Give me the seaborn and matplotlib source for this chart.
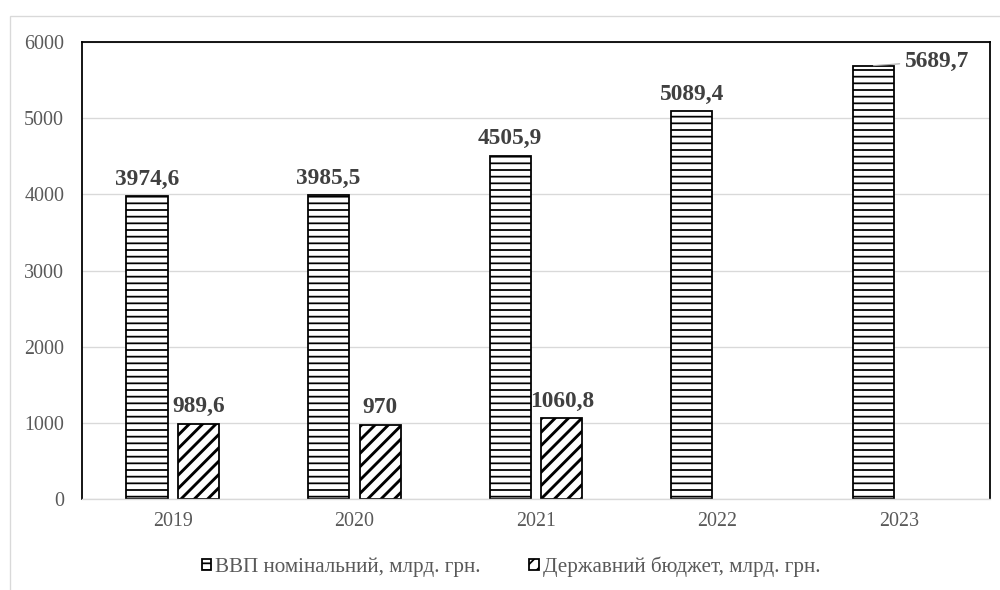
import numpy as np
import pandas as pd
import seaborn as sns
import matplotlib.pyplot as plt
from matplotlib.patches import Rectangle

years = ["2019", "2020", "2021", "2022", "2023"]
gdp = [3974.6, 3985.5, 4505.9, 5089.4, 5689.7]
budget = [989.6, 970.0, 1060.8, np.nan, np.nan]
gdp_labels = ["3974,6", "3985,5", "4505,9", "5089,4", "5689,7"]
budget_labels = ["989,6", "970", "1060,8"]
series = ["ВВП номінальний, млрд. грн.", "Державний бюджет, млрд. грн."]
yticks = [0, 1000, 2000, 3000, 4000, 5000, 6000]

df = pd.DataFrame({
    "year": years * 2,
    "value": gdp + budget,
    "series": [series[0]] * len(years) + [series[1]] * len(years),
})

sns.set_style("white")
plt.rcParams["font.family"] = ["Liberation Serif", "DejaVu Serif"]
plt.rcParams["hatch.linewidth"] = 1.6
plt.rcParams["hatch.color"] = "black"

grey_txt = "#595959"
lbl_txt = "#404040"

# 80 dpi so that matplotlib's hatch spacing matches the picture
fig = plt.figure(figsize=(12.5, 7.375), dpi=80)
fig.patches.append(Rectangle((0.01, -0.01), 1.0, 0.983, transform=fig.transFigure,
                             fill=False, edgecolor="#d9d9d9", lw=1.2))
ax = fig.add_axes([0.082, 0.1542, 0.908, 0.7746])

sns.barplot(data=df, x="year", y="value", hue="series", hue_order=series,
            palette=["white", "white"], saturation=1, edgecolor="black",
            linewidth=1.6, width=0.567, gap=0.2, errorbar=None,
            legend=False, ax=ax)

hatches = ["--", "//"]
hlw = [1.6, 2.6]
for cont, h, lw in zip(ax.containers, hatches, hlw):
    for p in cont:
        p.set_hatch(h)
        if hasattr(p, "set_hatch_linewidth"):
            p.set_hatch_linewidth(lw)

# data labels
lab_kw = dict(fontsize=21, fontweight="bold", color=lbl_txt)
ax.bar_label(ax.containers[0], labels=gdp_labels[:-1] + [""], padding=6, **lab_kw)
ax.bar_label(ax.containers[1], labels=budget_labels, padding=6, **lab_kw)
last = ax.containers[0][-1]
ax.annotate(gdp_labels[-1],
            xy=(last.get_x() + last.get_width() / 2, last.get_height()),
            xytext=(28, 4), textcoords="offset points", ha="left", va="center",
            arrowprops=dict(arrowstyle="-", color="#a6a6a6", lw=1, shrinkA=2, shrinkB=0),
            **lab_kw)

ax.set_ylim(0, 6000)
ax.set_yticks(yticks)
ax.set_xlabel("")
ax.set_ylabel("")
ax.tick_params(axis="both", length=0, labelsize=18, labelcolor=grey_txt)
ax.tick_params(axis="y", pad=16)
ax.tick_params(axis="x", pad=12)
ax.yaxis.grid(True, color="#d9d9d9", lw=1.2)
ax.set_axisbelow(True)
for s in ["left", "right", "top"]:
    ax.spines[s].set_color("black")
    ax.spines[s].set_linewidth(1.6)
ax.spines["bottom"].set_color("#d9d9d9")
ax.spines["bottom"].set_linewidth(1.2)

fig.legend(handles=ax.containers, labels=series, loc="center",
           bbox_to_anchor=(0.511, 0.039), ncol=2, frameon=False, fontsize=19,
           labelcolor=grey_txt, handlelength=0.45, handleheight=0.45,
           handletextpad=0.2, columnspacing=2.3)

fig.savefig("out.png", dpi=80)
